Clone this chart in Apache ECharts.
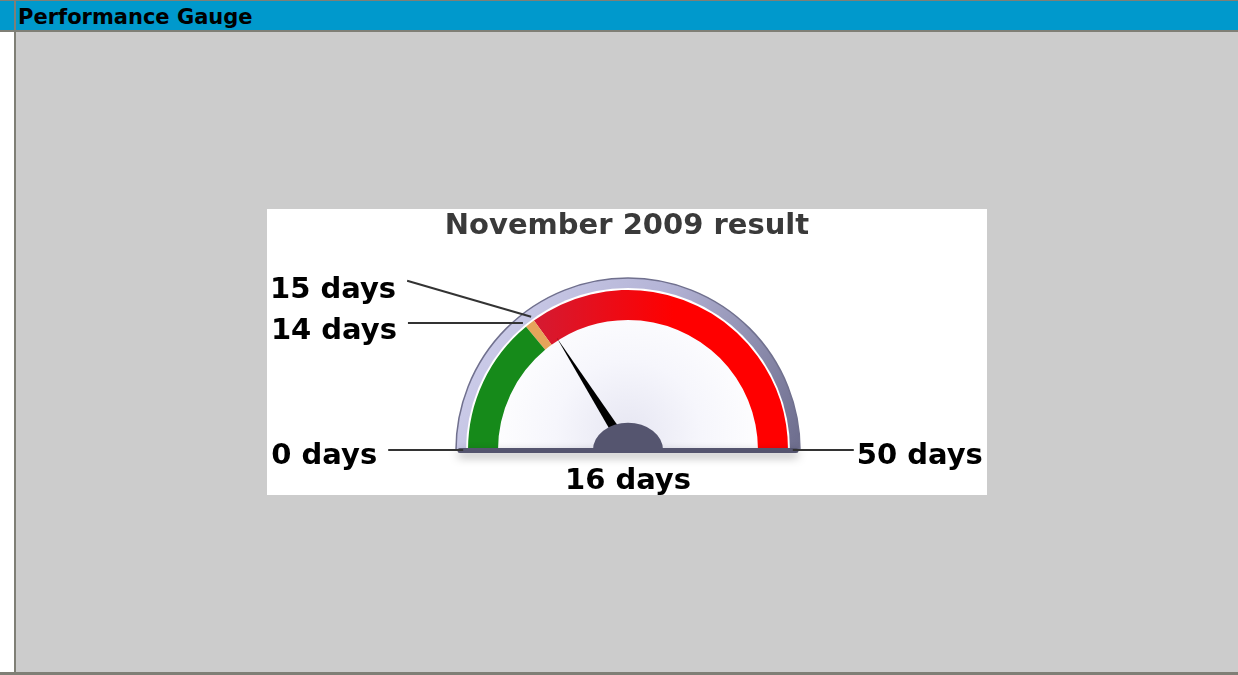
<!DOCTYPE html>
<html>
<head>
<meta charset="utf-8">
<title>Performance Gauge</title>
<script src="https://cdn.jsdelivr.net/npm/echarts@6/dist/echarts.min.js"></script>
<style>
  html, body { margin: 0; padding: 0; width: 1238px; height: 675px; overflow: hidden; background: #fff; }
  #topline { position: absolute; left: 0; top: 0; width: 1238px; height: 1px; background: #7f7f76; }
  #tick { position: absolute; left: 586px; top: 0; width: 3px; height: 3px; background: #7f7f76; }
  #header { position: absolute; left: 0; top: 1px; width: 1238px; height: 29px; background: #0099cc; }
  #header span { position: absolute; left: 18px; top: 4px; line-height: 29px;
    font: bold 21px "DejaVu Sans", Verdana, sans-serif; color: #000; }
  #headline { position: absolute; left: 0; top: 30px; width: 1238px; height: 2px; background: #7f7f76; }
  #vline { position: absolute; left: 14px; top: 1px; width: 2px; height: 674px; background: #7f7f76; }
  #panel { position: absolute; left: 16px; top: 32px; width: 1222px; height: 640px; background: #cccccc; }
  #bottomline { position: absolute; left: 0; top: 672px; width: 1238px; height: 3px; background: #7f7f76; }
  #gauge-chart { position: absolute; left: 267px; top: 209px; width: 720px; height: 286px; background: #fff; }
</style>
</head>
<body>
<div id="topline"></div>
<div id="tick"></div>
<div id="header"><span>Performance Gauge</span></div>
<div id="headline"></div>
<div id="panel"></div>
<div id="vline"></div>
<div id="bottomline"></div>
<div id="gauge-chart"></div>
<script>
// 数据
var chartTitle = 'November 2009 result';
var unit = 'days';
var gaugeMin = 0;
var gaugeMax = 50;
var currentValue = 16;
var thresholds = [14, 15];                 // 绿色 / 橙色 分界
var calloutValues = [0, 14, 15, 50];       // 外侧标注

// 布局 (像素)
var CX = 361, CY = 241;
var bandRadius = 160, bandWidth = 30;
var calloutOffsets = [[-75, 0], [-115, 0], [-124, -36], [61, 0]];
var labelShiftY = [6, 8, 10, 6];

var gaugeChart = echarts.init(document.getElementById('gauge-chart'));

var redFill = new echarts.graphic.LinearGradient(0, 0, 1, 0, [
    { offset: 0, color: '#d41a32' },
    { offset: 0.55, color: '#ff0000' },
    { offset: 1, color: '#ff0000' }
]);

var option = {
    animation: false,
    title: {
        text: chartTitle,
        left: 'center',
        top: 3,
        padding: 0,
        textStyle: { fontFamily: 'DejaVu Sans', fontWeight: 'bold', fontSize: 29, color: '#3a3a3a' }
    },
    polar: { center: [CX, CY], radius: bandRadius },
    angleAxis: { show: false, min: gaugeMin, max: gaugeMax * 2, startAngle: 180, clockwise: true },
    radiusAxis: { show: false, min: 0, max: 1 },
    graphic: [
        {   // 外框
            type: 'sector', z: 0, silent: true,
            shape: { cx: CX, cy: CY, r: 172, r0: 0, startAngle: Math.PI, endAngle: Math.PI * 2 },
            style: {
                fill: new echarts.graphic.LinearGradient(0, 0, 1, 1, [
                    { offset: 0, color: '#d4d4f0' },
                    { offset: 0.5, color: '#b4b4d6' },
                    { offset: 1, color: '#6c6c8c' }
                ]),
                stroke: '#70708e', lineWidth: 1.5
            }
        },
        {   // 表盘
            type: 'sector', z: 0, silent: true,
            shape: { cx: CX, cy: CY, r: 162, r0: 0, startAngle: Math.PI, endAngle: Math.PI * 2 },
            style: {
                fill: new echarts.graphic.RadialGradient(0.5, 0.9, 0.9, [
                    { offset: 0, color: '#e6e6f2' },
                    { offset: 0.5, color: '#f6f6fc' },
                    { offset: 1, color: '#ffffff' }
                ])
            }
        },
        {   // 底边
            type: 'line', z: 10, silent: true,
            shape: { x1: CX - 168, y1: CY + 0.5, x2: CX + 168, y2: CY + 0.5 },
            style: { stroke: '#55556f', lineWidth: 5, lineCap: 'round',
                shadowColor: 'rgba(0,0,0,0.35)', shadowBlur: 10, shadowOffsetY: 4 }
        },
        {   // 指针轴
            type: 'sector', z: 10, silent: true,
            x: CX, y: CY, scaleY: 0.78,
            shape: { cx: 0, cy: 0, r: 35, r0: 0, startAngle: Math.PI, endAngle: Math.PI * 2 },
            style: { fill: '#55556f' }
        }
    ],
    series: [
        {
            type: 'gauge',
            silent: true,
            center: [CX, CY],
            radius: bandRadius,
            startAngle: 180,
            endAngle: 0,
            min: gaugeMin,
            max: gaugeMax,
            axisLine: {
                lineStyle: {
                    width: bandWidth,
                    color: [
                        [thresholds[0] / gaugeMax, '#168a1a'],
                        [thresholds[1] / gaugeMax, '#e6a45a'],
                        [1, redFill]
                    ]
                }
            },
            axisTick: { show: false },
            splitLine: { show: false },
            axisLabel: { show: false },
            pointer: {
                icon: 'path://M0 100 L5 0 L10 100 Z',
                length: 133,
                width: 11,
                itemStyle: { color: '#000' }
            },
            anchor: { show: false },
            title: { show: false },
            detail: {
                offsetCenter: [0, 31],
                formatter: '{value} ' + unit,
                fontFamily: 'DejaVu Sans',
                fontWeight: 'bold',
                fontSize: 29,
                color: '#000'
            },
            data: [{ value: currentValue }]
        },
        {
            type: 'custom',
            coordinateSystem: 'polar',
            silent: true,
            z: 12,
            data: calloutValues.map(function (v) { return [1.03, v]; }),
            renderItem: function (params, api) {
                var i = params.dataIndex;
                var p = api.coord([api.value(0), api.value(1)]);
                var off = calloutOffsets[i];
                var ex = p[0] + off[0], ey = p[1] + off[1];
                var toLeft = off[0] < 0;
                return {
                    type: 'group',
                    children: [
                        {
                            type: 'line',
                            shape: { x1: p[0], y1: p[1], x2: ex, y2: ey },
                            style: { stroke: '#333', lineWidth: 2 }
                        },
                        {
                            type: 'text',
                            x: ex + (toLeft ? -11 : 3),
                            y: ey + labelShiftY[i],
                            style: {
                                text: api.value(1) + ' ' + unit,
                                fill: '#000',
                                font: 'bold 29px "DejaVu Sans"',
                                align: toLeft ? 'right' : 'left',
                                verticalAlign: 'middle'
                            }
                        }
                    ]
                };
            }
        }
    ]
};

gaugeChart.setOption(option);
</script>
</body>
</html>
